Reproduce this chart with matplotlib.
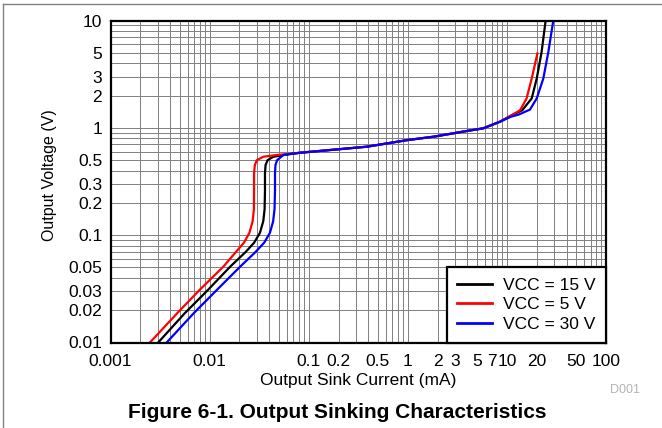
import numpy as np
import matplotlib
matplotlib.use('Agg')
import matplotlib.pyplot as plt
from matplotlib.lines import Line2D

plt.rcParams['font.family'] = ['Liberation Sans', 'DejaVu Sans']

# data (current in mA, voltage in V)
i_5v = [0.0025, 0.0047, 0.0079, 0.01374, 0.0185, 0.0222, 0.0252, 0.0272, 0.0280, 0.0281, 0.0281,
        0.0286, 0.0300, 0.0348, 0.0475, 0.0817, 0.385, 1.0, 1.81, 3.93, 5.78, 8.5, 11.0,
        13.6, 15.8, 17.8, 20.3]
v_5v = [0.01, 0.0187, 0.0308, 0.0508, 0.07, 0.085, 0.105, 0.135, 0.175, 0.26, 0.377,
        0.45, 0.50, 0.538, 0.558, 0.586, 0.667, 0.77, 0.826, 0.934, 0.99, 1.14, 1.3,
        1.46, 1.88, 2.88, 4.93]

i_15v = [0.00303, 0.0056, 0.0096, 0.0161, 0.0232, 0.0281, 0.0322, 0.0348, 0.0359, 0.0362, 0.0362,
         0.0367, 0.0385, 0.044, 0.06, 0.0817, 0.385, 1.0, 1.81, 3.93, 5.78, 8.5, 11.0,
         14.3, 17.8, 20.0, 22.4, 24.6]
v_15v = [0.01, 0.0187, 0.0308, 0.0508, 0.07, 0.085, 0.105, 0.135, 0.175, 0.26, 0.377,
         0.45, 0.50, 0.538, 0.565, 0.586, 0.667, 0.77, 0.826, 0.934, 0.99, 1.14, 1.3,
         1.46, 1.88, 2.88, 5.1, 10.0]

i_30v = [0.00369, 0.0069, 0.0118, 0.0203, 0.0292, 0.0355, 0.0406, 0.0438, 0.0452, 0.0457, 0.0457,
         0.0462, 0.0480, 0.0555, 0.0817, 0.385, 1.0, 1.81, 3.93, 5.78, 8.5, 11.0,
         13.2, 17.1, 20.0, 23.3, 26.2, 29.4]
v_30v = [0.01, 0.0187, 0.0308, 0.0508, 0.07, 0.085, 0.105, 0.135, 0.175, 0.26, 0.377,
         0.45, 0.50, 0.558, 0.586, 0.667, 0.77, 0.826, 0.934, 0.99, 1.14, 1.27,
         1.33, 1.48, 1.88, 2.88, 5.1, 10.0]

x_ticks = [0.001, 0.01, 0.1, 0.2, 0.5, 1, 2, 3, 5, 7, 10, 20, 50, 100]
x_labels = ['0.001', '0.01', '0.1', '0.2', '0.5', '1', '2', '3', '5', '7', '10', '20', '50', '100']
y_ticks = [0.01, 0.02, 0.03, 0.05, 0.1, 0.2, 0.3, 0.5, 1, 2, 3, 5, 10]
y_labels = ['0.01', '0.02', '0.03', '0.05', '0.1', '0.2', '0.3', '0.5', '1', '2', '3', '5', '10']

fig = plt.figure(figsize=(6.62, 4.28), dpi=100)
ax = fig.add_axes([110.5/662, 1-342.5/428, 495.5/662, 322/428])

ax.plot(i_15v, v_15v, color='black', lw=1.6, label='VCC = 15 V')
ax.plot(i_5v, v_5v, color='#ff0000', lw=1.6, label='VCC = 5 V')
ax.plot(i_30v, v_30v, color='#0000ff', lw=1.6, label='VCC = 30 V')

ax.set_xscale('log')
ax.set_yscale('log')
ax.set_xlim(0.001, 100)
ax.set_ylim(0.01, 10)

# grid on every 1..9 step of each decade
minor_x = [m*10.0**e for e in range(-3, 2) for m in range(1, 10)]
minor_y = [m*10.0**e for e in range(-2, 1) for m in range(1, 10)]
ax.set_xticks(minor_x, minor=True)
ax.set_yticks(minor_y, minor=True)
ax.set_xticks(x_ticks)
ax.set_xticklabels(x_labels)
ax.set_yticks(y_ticks)
ax.set_yticklabels(y_labels)
ax.tick_params(which='both', length=0)
ax.tick_params(axis='x', pad=8, labelsize=12.5)
ax.tick_params(axis='y', pad=6, labelsize=12.5)
ax.grid(True, which='both', color='0.5', lw=0.7)
ax.set_axisbelow(True)
for s in ax.spines.values():
    s.set_linewidth(1.6)

ax.set_xlabel('Output Sink Current (mA)', fontsize=12.5, labelpad=3)
ax.set_ylabel('Output Voltage (V)', fontsize=11.5)
ax.yaxis.set_label_coords(-0.108, 0.52)

leg = ax.legend(loc='lower right', bbox_to_anchor=(1, 0), borderaxespad=0,
                fontsize=12.5, fancybox=False, framealpha=1, edgecolor='black',
                handlelength=2.0, handletextpad=0.6, labelspacing=0.25,
                borderpad=0.62)
leg.get_frame().set_linewidth(1.6)
for l in leg.get_lines():
    l.set_linewidth(2)

fig.text(625/662, 1-390/428, 'D001', color='#b4b4b4', fontsize=9,
         ha='center', va='center')
fig.text(337/662, 1-413/428, 'Figure 6-1. Output Sinking Characteristics',
         fontsize=15, fontweight='bold', ha='center', va='center')

# frame of the page crop
fig.add_artist(Line2D([3/662, 3/662], [0, 1-3.5/428], color='0.5', lw=1))
fig.add_artist(Line2D([3/662, 1], [1-3.5/428, 1-3.5/428], color='0.5', lw=1))

fig.savefig('out.png', dpi=100)
